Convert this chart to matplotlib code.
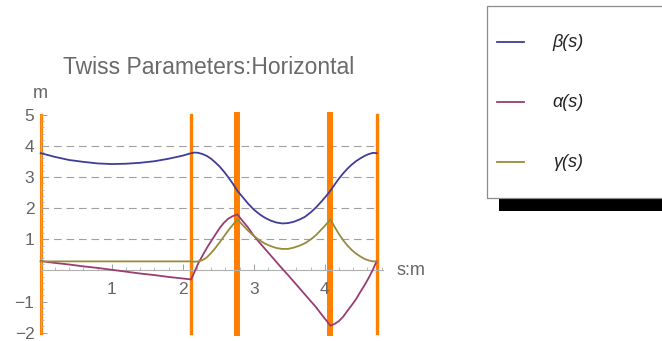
import matplotlib
matplotlib.use("Agg")
import matplotlib.pyplot as plt
from matplotlib.patches import Rectangle
from matplotlib.lines import Line2D
from matplotlib.ticker import MultipleLocator, FixedLocator

plt.rcParams["font.family"] = ["Liberation Sans", "DejaVu Sans"]
plt.rcParams["lines.scale_dashes"] = False

# Longitudinal position along the cell (m)
s = [0.00, 0.20, 0.40, 0.60, 0.80, 1.00, 1.20, 1.40, 1.60, 1.80, 2.00, 2.12,
     2.17, 2.22, 2.28, 2.34, 2.40, 2.46, 2.52, 2.58, 2.64, 2.70, 2.77,
     2.84, 2.92, 3.00, 3.08, 3.16, 3.24, 3.32, 3.40, 3.48, 3.56, 3.64,
     3.72, 3.80, 3.88, 3.96, 4.02, 4.08,
     4.14, 4.20, 4.26, 4.32, 4.38, 4.44, 4.50, 4.56, 4.62, 4.68, 4.73]

beta = [3.77, 3.65, 3.55, 3.49, 3.44, 3.42, 3.43, 3.46, 3.51, 3.59, 3.69, 3.77,
        3.79, 3.78, 3.74, 3.68, 3.59, 3.47, 3.34, 3.18, 3.00, 2.81, 2.56,
        2.37, 2.15, 1.96, 1.81, 1.69, 1.60, 1.54, 1.51, 1.52, 1.56, 1.63,
        1.72, 1.86, 2.03, 2.23, 2.39, 2.56,
        2.76, 2.95, 3.12, 3.27, 3.40, 3.51, 3.60, 3.68, 3.74, 3.78, 3.77]

alpha = [0.30, 0.24, 0.19, 0.13, 0.08, 0.02, -0.04, -0.10, -0.15, -0.21, -0.26, -0.29,
         -0.03, 0.23, 0.48, 0.72, 0.94, 1.15, 1.36, 1.53, 1.66, 1.74, 1.80,
         1.60, 1.38, 1.12, 0.90, 0.69, 0.48, 0.27, 0.06, -0.14, -0.35, -0.56,
         -0.77, -0.98, -1.19, -1.43, -1.60, -1.78,
         -1.72, -1.63, -1.49, -1.30, -1.12, -0.93, -0.70, -0.48, -0.24, 0.03, 0.29]

gamma = [0.29, 0.29, 0.29, 0.29, 0.29, 0.29, 0.29, 0.29, 0.29, 0.29, 0.29, 0.29,
         0.28, 0.29, 0.33, 0.42, 0.56, 0.72, 0.90, 1.09, 1.28, 1.45, 1.64,
         1.47, 1.28, 1.11, 0.97, 0.86, 0.78, 0.72, 0.69, 0.69, 0.73, 0.79,
         0.87, 0.99, 1.14, 1.33, 1.48, 1.64,
         1.40, 1.17, 0.97, 0.80, 0.66, 0.54, 0.45, 0.37, 0.32, 0.29, 0.29]

# Element boundaries and their drawn widths (pt)
edges = [0.00, 2.12, 2.77, 4.08, 4.73]
edge_widths = [2.3, 2.4, 4.3, 4.3, 2.4]

x_ticks = [1, 2, 3, 4]
y_ticks = [-2, -1, 1, 2, 3, 4, 5]
grid_levels = [1, 2, 3, 4]

series = [("β(s)", beta, "#3F3D99"),
          ("α(s)", alpha, "#993D71"),
          ("γ(s)", gamma, "#998B3D")]

W, H = 662, 341
fig = plt.figure(figsize=(W / 100, H / 100), dpi=100)

x0_px, unit_x = 40.7, 71.0
y5_px, y_m2_px = 114.9, 332.6
xmax = 4.82
ax = fig.add_axes([x0_px / W, (H - y_m2_px) / H,
                   xmax * unit_x / W, (y_m2_px - y5_px) / H])
ax.set_xlim(0, xmax)
ax.set_ylim(-2, 5)

for sp in ["top", "right"]:
    ax.spines[sp].set_visible(False)
ax.spines["bottom"].set_position(("data", 0))
ax.spines["left"].set_position(("data", 0))
for sp in ["bottom", "left"]:
    ax.spines[sp].set_color("#b0b0b0")
    ax.spines[sp].set_linewidth(0.8)

ax.xaxis.set_major_locator(FixedLocator(x_ticks))
ax.yaxis.set_major_locator(FixedLocator(y_ticks))
ax.xaxis.set_minor_locator(MultipleLocator(0.2))
ax.yaxis.set_minor_locator(MultipleLocator(0.2))
ax.set_xticklabels([str(v) for v in x_ticks])
ax.set_yticklabels([str(v).replace("-", "\u2212") for v in y_ticks])
ax.tick_params(which="major", direction="in", length=4, width=0.7,
               color="#a0a0a0", labelsize=12.5, labelcolor="#666666")
ax.tick_params(which="minor", direction="in", length=2.2, width=0.6,
               color="#b0b0b0")
ax.tick_params(axis="x", which="major", pad=8.5)
ax.tick_params(axis="y", which="major", pad=4.5)

for lv in grid_levels:
    ax.plot([0, edges[-1]], [lv, lv], color="#a0a0a0", lw=0.8,
            dashes=(5.5, 3.5), zorder=1)

for xe, wd in zip(edges, edge_widths):
    ax.axvline(xe, color="#FF8000", lw=wd, zorder=1.5, clip_on=False)

for name, vals, col in series:
    ax.plot(s, vals, color=col, lw=1.3, zorder=3, clip_on=False)

# Axis labels
fig.text(40.5 / W, (H - 98.3) / H, "m", fontsize=13, color="#666666",
         ha="center", va="baseline")
fig.text(397 / W, (H - 270.4) / H, "s:m", fontsize=13, color="#666666",
         ha="left", va="center")

fig.text(208.5 / W, (H - 74.3) / H, "Twiss Parameters:Horizontal",
         fontsize=16.5, color="#6a6a6a", ha="center", va="baseline")

# Legend panel with drop shadow
fig.patches.append(Rectangle((499 / W, (H - 210.7) / H), 0.3, 13 / H,
                             transform=fig.transFigure, facecolor="black",
                             edgecolor="none", zorder=1))
fig.patches.append(Rectangle((487 / W, (H - 197.7) / H), 0.3, 191.7 / H,
                             transform=fig.transFigure, facecolor="white",
                             edgecolor="#8c8c8c", lw=0.9, zorder=2))
for i, (name, vals, col) in enumerate(series):
    yy = (H - (42.3 + 60 * i)) / H
    fig.lines.append(Line2D([496.7 / W, 524 / W], [yy, yy], color=col,
                            lw=1.3, transform=fig.transFigure, zorder=3))
    fig.text(552.7 / W, yy, name, fontsize=13, fontstyle="italic",
             color="#222222", ha="left", va="center", zorder=3)

fig.savefig("out.png", dpi=100)
